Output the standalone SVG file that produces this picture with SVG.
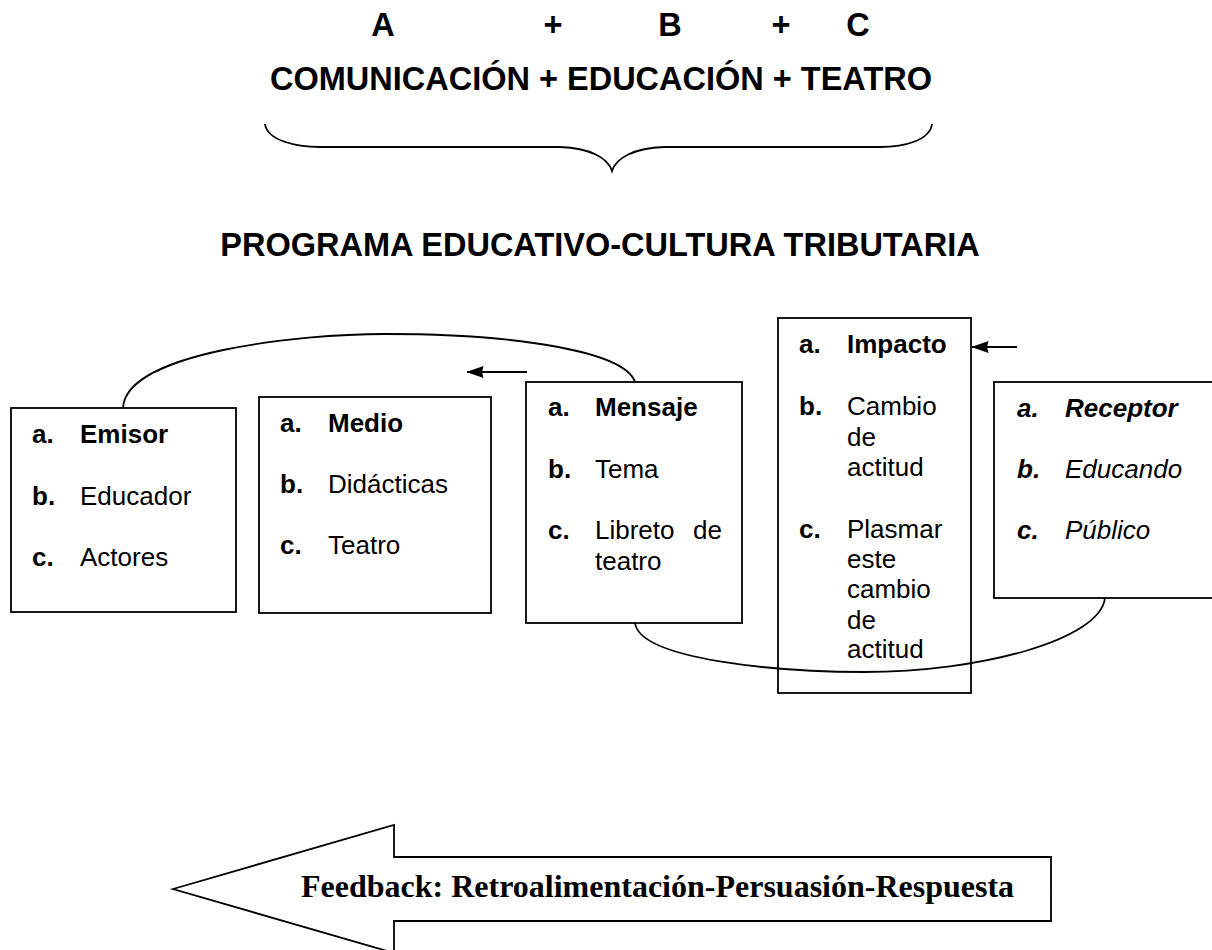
<svg xmlns="http://www.w3.org/2000/svg" width="1212" height="950" viewBox="0 0 1212 950">
<style>
.t{font-family:"Liberation Sans",Arial,sans-serif;font-size:26px;fill:#000}
.b{font-weight:bold}
.i{font-style:italic}
.h{font-family:"Liberation Sans",Arial,sans-serif;font-size:32.5px;font-weight:bold;fill:#000}
.box{fill:#fff;stroke:#000;stroke-width:1.8}
.ln{fill:none;stroke:#000;stroke-width:1.8}
</style>
<defs>
<marker id="ah" viewBox="0 0 17 14" refX="16.5" refY="7" markerWidth="17" markerHeight="14" markerUnits="userSpaceOnUse" orient="auto">
<path d="M0,1 L17,7 L0,13 L1.5,7 z" fill="#000"/>
</marker>
</defs>
<rect width="1212" height="950" fill="#fff"/>
<g id="header">
<text class="h" x="383" y="36" text-anchor="middle">A</text>
<text class="h" x="553" y="36" text-anchor="middle">+</text>
<text class="h" x="670" y="36" text-anchor="middle">B</text>
<text class="h" x="781" y="36" text-anchor="middle">+</text>
<text class="h" x="858" y="36" text-anchor="middle">C</text>
<text class="h" x="601" y="90" text-anchor="middle">COMUNICACIÓN + EDUCACIÓN + TEATRO</text>
<path class="ln" d="M265,124 C267,140 295,147 320,147 L560,147 C590,148 608,158 612,171 C616,158 634,148 664,147 L880,147 C905,147 930,140 932,124"/>
<text class="h" x="600" y="256" text-anchor="middle">PROGRAMA EDUCATIVO-CULTURA TRIBUTARIA</text>
</g>
<g id="connectors">
<path class="ln" d="M123,408 C126,352 300,334 385,334 C520,334 625,352 635,382"/>
<path class="ln" d="M635,623 C640,660 780,672 864,672 C980,672 1100,640 1105,598"/>
<line class="ln" x1="527" y1="372" x2="467" y2="372" marker-end="url(#ah)"/>
<line class="ln" x1="1017" y1="347" x2="972" y2="347" marker-end="url(#ah)"/>
</g>
<g id="emisor">
<rect class="box" x="11" y="408" width="225" height="204"/>
<text class="t b" x="32" y="443">a.</text><text class="t b" x="80" y="443">Emisor</text>
<text class="t b" x="32" y="505">b.</text><text class="t" x="80" y="505">Educador</text>
<text class="t b" x="32" y="566">c.</text><text class="t" x="80" y="566">Actores</text>
</g>
<g id="medio">
<rect class="box" x="259" y="397" width="232" height="216"/>
<text class="t b" x="280" y="432">a.</text><text class="t b" x="328" y="432">Medio</text>
<text class="t b" x="280" y="493">b.</text><text class="t" x="328" y="493">Didácticas</text>
<text class="t b" x="280" y="554">c.</text><text class="t" x="328" y="554">Teatro</text>
</g>
<g id="mensaje">
<rect class="box" x="526" y="382" width="216" height="241"/>
<text class="t b" x="548" y="416">a.</text><text class="t b" x="595" y="416">Mensaje</text>
<text class="t b" x="548" y="478">b.</text><text class="t" x="595" y="478">Tema</text>
<text class="t b" x="548" y="539">c.</text><text class="t" x="595" y="539">Libreto</text><text class="t" x="722" y="539" text-anchor="end">de</text>
<text class="t" x="595" y="570">teatro</text>
</g>
<g id="impacto">
<rect class="box" x="778" y="318" width="193" height="375" fill-opacity="0"/>
<text class="t b" x="799" y="353">a.</text><text class="t b" x="847" y="353">Impacto</text>
<text class="t b" x="799" y="415">b.</text><text class="t" x="847" y="415">Cambio</text>
<text class="t" x="847" y="446">de</text>
<text class="t" x="847" y="476">actitud</text>
<text class="t b" x="799" y="538">c.</text><text class="t" x="847" y="538">Plasmar</text>
<text class="t" x="847" y="568">este</text>
<text class="t" x="847" y="598">cambio</text>
<text class="t" x="847" y="629">de</text>
<text class="t" x="847" y="658">actitud</text>
</g>
<g id="receptor">
<rect class="box" x="994" y="382" width="230" height="216"/>
<text class="t b i" x="1017" y="417">a.</text><text class="t b i" x="1065" y="417">Receptor</text>
<text class="t b i" x="1017" y="478">b.</text><text class="t i" x="1065" y="478">Educando</text>
<text class="t b i" x="1017" y="539">c.</text><text class="t i" x="1065" y="539">Público</text>
</g>
<g id="feedback">
<polygon class="box" points="173,889 394,825 394,857 1051,857 1051,921 394,921 394,953"/>
<text x="301" y="897" font-family="'Liberation Serif','Times New Roman',serif" font-size="32" font-weight="bold" fill="#000">Feedback: Retroalimentación-Persuasión-Respuesta</text>
</g>
</svg>
